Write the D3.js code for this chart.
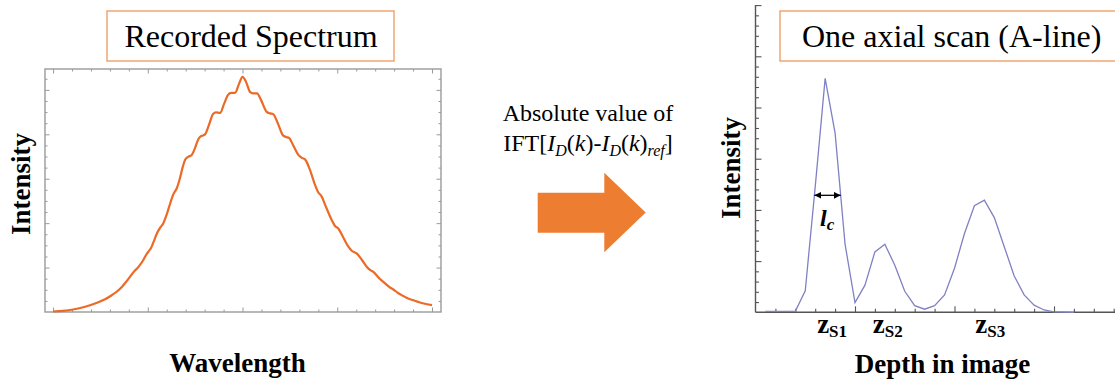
<!DOCTYPE html>
<html><head><meta charset="utf-8">
<script src="https://cdn.jsdelivr.net/npm/d3@7"></script>
<style>
body{margin:0;background:#fff}
svg{display:block}
</style>
</head><body>
<svg id="c" width="1115" height="383" font-family="Liberation Serif, DejaVu Serif, serif"></svg>
<script>
// Recorded spectrum (wavelength, arb. units) and its intensity
const spectrumX = [0,0.106,0.211,0.338,0.464,0.549,0.623,0.675,0.728,0.770,0.813,0.855,0.887,0.918,0.953,0.982,1.008,1.034,1.061,1.094,1.129,1.164,1.198,1.237,1.267,1.306,1.340,1.372,1.393,1.425,1.464,1.499,1.530,1.551,1.583,1.604,1.646,1.689,1.720,1.763,1.805,1.847,1.879,1.921,1.963,2.0,
  2.037,2.079,2.111,2.153,2.195,2.255,2.290,2.322,2.375,2.424,2.459,2.491,2.533,2.589,2.628,2.660,2.712,2.765,2.797,2.836,2.881,2.941,2.976,3.011,3.061,3.117,3.156,3.205,3.261,3.311,3.346,3.381,3.451,3.504,3.557,3.592,3.641,3.697,3.747,3.803,3.873,3.937,4.0];
const spectrumY = [0.011,0.027,0.056,0.117,0.209,0.286,0.383,0.462,0.570,0.676,0.795,0.912,0.980,1.059,1.171,1.284,1.363,1.441,1.577,1.757,1.892,1.998,2.185,2.448,2.635,2.786,3.018,3.288,3.423,3.491,3.536,3.694,3.874,3.941,3.975,3.998,4.212,4.459,4.493,4.482,4.685,4.887,4.932,4.932,5.135,5.293,
  5.180,4.955,4.921,4.921,4.775,4.505,4.471,4.459,4.234,3.986,3.941,3.919,3.761,3.536,3.468,3.435,3.198,2.860,2.703,2.597,2.365,2.072,1.937,1.881,1.689,1.471,1.374,1.318,1.171,1.020,0.946,0.901,0.743,0.646,0.552,0.507,0.428,0.360,0.304,0.264,0.214,0.180,0.153];

// One axial scan: depth samples and reflectivity magnitude
const depthX = [0.1,0.2,0.3,0.4,0.5,0.6,0.7,0.8,0.9,1.0,1.1,1.2,1.3,1.4,1.5,1.6,1.7,1.8,1.9,2.0,2.1,2.2,2.3,2.4,2.5,2.6,2.7,2.8,2.9,3.0,3.1,3.2];
const depthY = [0.02,0.02,0.02,0.02,0.42,2.45,4.57,3.50,1.33,0.19,0.53,1.18,1.33,0.92,0.41,0.13,0.06,0.13,0.34,0.86,1.54,2.08,2.19,1.85,1.28,0.71,0.34,0.14,0.045,0.01,0.005,0];

// Surface labels along depth
const surfaceNames = ["S1","S2","S3"];
const surfaceDepth = [0.77, 1.33, 2.36];

const svg = d3.select("#c");
const orange = "#ED7D31";

// ---------- left panel: recorded spectrum ----------
const xs = d3.scaleLinear().domain([-0.085, 4.095]).range([45, 441]);
const ys = d3.scaleLinear().domain([0, 5.47]).range([312, 69]);
const L = svg.append("g");

const frameCol = "#9a9a9a";
function ticksGroup(g, axis, transform){
  const a = g.append("g").attr("transform", transform).call(axis);
  a.select(".domain").remove();
  a.attr("font-family", null);
  a.selectAll(".tick line").attr("stroke", frameCol).attr("stroke-width", 1);
  return a;
}
const xMinor = d3.range(0, 4.001, 0.2).filter(v => Math.abs(v - Math.round(v)) > 0.01);
const xMajor = [0,1,2,3,4];
const yMinor = d3.range(0, 5.3, 0.25).filter(v => Math.abs(v - Math.round(v)) > 0.01);
const yMajor = [1,2,3,4,5];
ticksGroup(L, d3.axisBottom(xs).tickValues(xMinor).tickSize(-2.5).tickFormat(""), "translate(0,312)");
ticksGroup(L, d3.axisBottom(xs).tickValues(xMajor).tickSize(-4.5).tickFormat(""), "translate(0,312)");
ticksGroup(L, d3.axisTop(xs).tickValues(xMinor).tickSize(-2.5).tickFormat(""), "translate(0,69)");
ticksGroup(L, d3.axisTop(xs).tickValues(xMajor).tickSize(-4.5).tickFormat(""), "translate(0,69)");
ticksGroup(L, d3.axisLeft(ys).tickValues(yMinor).tickSize(-2.5).tickFormat(""), "translate(45,0)");
ticksGroup(L, d3.axisLeft(ys).tickValues(yMajor).tickSize(-4.5).tickFormat(""), "translate(45,0)");
ticksGroup(L, d3.axisRight(ys).tickValues(yMinor).tickSize(-2.5).tickFormat(""), "translate(441,0)");
ticksGroup(L, d3.axisRight(ys).tickValues(yMajor).tickSize(-4.5).tickFormat(""), "translate(441,0)");
L.append("rect").attr("x", 45).attr("y", 69).attr("width", 396).attr("height", 243)
  .attr("fill", "none").attr("stroke", frameCol).attr("stroke-width", 1.4);

const specLine = d3.line().x((d,i) => xs(spectrumX[i])).y(d => ys(d)).curve(d3.curveMonotoneX);
L.append("path").attr("d", specLine(spectrumY)).attr("fill", "none")
  .attr("stroke", "#EB6A26").attr("stroke-width", 2.2).attr("stroke-linejoin", "round");

// title box
L.append("rect").attr("x", 107).attr("y", 11).attr("width", 287).attr("height", 50)
  .attr("fill", "#fff").attr("stroke", "#F0975A").attr("stroke-width", 1.3);
L.append("text").attr("x", 251).attr("y", 47).attr("text-anchor", "middle")
  .attr("font-size", 32).text("Recorded Spectrum");
L.append("text").attr("x", 237.5).attr("y", 372).attr("text-anchor", "middle")
  .attr("font-size", 27).attr("font-weight", "bold").text("Wavelength");
L.append("text").attr("transform", "translate(30,184) rotate(-90)").attr("text-anchor", "middle")
  .attr("font-size", 27).attr("font-weight", "bold").text("Intensity");

// ---------- middle: transform label and arrow ----------
const M = svg.append("g");
M.append("text").attr("x", 588).attr("y", 121).attr("text-anchor", "middle")
  .attr("font-size", 24).text("Absolute value of");
const t2 = M.append("text").attr("x", 588).attr("y", 151).attr("text-anchor", "middle").attr("font-size", 24);
const parts = [
  {t:"IFT["}, {t:"I", i:1}, {t:"D", i:1, s:1}, {t:"("}, {t:"k", i:1}, {t:")-"},
  {t:"I", i:1}, {t:"D", i:1, s:1}, {t:"("}, {t:"k", i:1}, {t:")"}, {t:"ref", i:1, s:1}, {t:"]"}
];
let shifted = false;
parts.forEach(p => {
  const ts = t2.append("tspan").text(p.t);
  if (p.i) ts.attr("font-style", "italic");
  if (p.s) { ts.attr("font-size", 16); if (!shifted) { ts.attr("dy", 5); shifted = true; } }
  else if (shifted) { ts.attr("dy", -5); shifted = false; }
});
M.append("path")
  .attr("d", "M537.7,192.7 H604.3 V172.7 L645.7,212.5 L604.3,252.3 V232.7 H537.7 Z")
  .attr("fill", orange);

// ---------- right panel: A-line ----------
const xd = d3.scaleLinear().domain([0, 3.62]).range([755.5, 1115.7]);
const yd = d3.scaleLinear().domain([0, 6]).range([312.3, 5.1]);
const R = svg.append("g");
const axCol = "#555";
function axTicks(axis, transform){
  const a = R.append("g").attr("transform", transform).call(axis);
  a.select(".domain").remove();
  a.attr("font-family", null);
  a.selectAll(".tick line").attr("stroke", axCol).attr("stroke-width", 1.1);
}
const dMinor = d3.range(0.2, 3.61, 0.2).filter(v => Math.abs(v - Math.round(v)) > 0.01);
const dMajor = [1,2,3];
const iMinor = d3.range(0.2, 6.01, 0.2).filter(v => Math.abs(v - Math.round(v)) > 0.01);
const iMajor = [1,2,3,4,5,6];
axTicks(d3.axisBottom(xd).tickValues(dMinor).tickSize(-3.5).tickFormat(""), "translate(0,312.3)");
axTicks(d3.axisBottom(xd).tickValues(dMajor).tickSize(-6).tickFormat(""), "translate(0,312.3)");
axTicks(d3.axisLeft(yd).tickValues(iMinor).tickSize(-3.5).tickFormat(""), "translate(755.5,0)");
axTicks(d3.axisLeft(yd).tickValues(iMajor).tickSize(-6).tickFormat(""), "translate(755.5,0)");
R.append("line").attr("x1", 755.5).attr("x2", 1115).attr("y1", 312.3).attr("y2", 312.3)
  .attr("stroke", axCol).attr("stroke-width", 1.4);
R.append("line").attr("x1", 755.5).attr("x2", 755.5).attr("y1", 312.3).attr("y2", 5)
  .attr("stroke", axCol).attr("stroke-width", 1.4);

const aLine = d3.line().x((d,i) => xd(depthX[i])).y(d => yd(d));
R.append("path").attr("d", aLine(depthY)).attr("fill", "none")
  .attr("stroke", "#8080C4").attr("stroke-width", 1.3).attr("stroke-linejoin", "miter");

// coherence length at half of the first peak
const peakIdx = d3.maxIndex(depthY);
const half = depthY[peakIdx] / 2;
function crossing(i0, step){
  let i = i0;
  while (depthY[i + step] > half) i += step;
  const j = i + step, t = (depthY[i] - half) / (depthY[i] - depthY[j]);
  return depthX[i] + t * (depthX[j] - depthX[i]);
}
const lcL = crossing(peakIdx, -1), lcR = crossing(peakIdx, 1);
const defs = svg.append("defs");
defs.append("marker").attr("id", "ah").attr("viewBox", "0 0 10 10").attr("refX", 10).attr("refY", 5)
  .attr("markerWidth", 7).attr("markerHeight", 7).attr("markerUnits", "userSpaceOnUse")
  .attr("orient", "auto-start-reverse")
  .append("path").attr("d", "M0,0 L10,5 L0,10 Z").attr("fill", "#000");
R.append("line").attr("x1", xd(lcL)).attr("x2", xd(lcR)).attr("y1", yd(half)).attr("y2", yd(half))
  .attr("stroke", "#000").attr("stroke-width", 1.3)
  .attr("marker-start", "url(#ah)").attr("marker-end", "url(#ah)");
const lc = R.append("text").attr("x", 820).attr("y", 226).attr("font-size", 24)
  .attr("font-weight", "bold").attr("font-style", "italic");
lc.append("tspan").text("l");
lc.append("tspan").attr("font-size", 17).attr("dy", 4).text("c");

// surface labels
surfaceNames.forEach((s, i) => {
  const t = R.append("text").attr("x", xd(surfaceDepth[i])).attr("y", 333)
    .attr("text-anchor", "middle").attr("font-weight", "bold").attr("font-size", 27);
  t.append("tspan").text("z");
  t.append("tspan").attr("font-size", 17).attr("dy", 4).text(s);
});

R.append("rect").attr("x", 780).attr("y", 11).attr("width", 360).attr("height", 50)
  .attr("fill", "#fff").attr("stroke", "#F0975A").attr("stroke-width", 1.3);
R.append("text").attr("x", 951.7).attr("y", 47).attr("text-anchor", "middle")
  .attr("font-size", 32).text("One axial scan (A-line)");
R.append("text").attr("x", 942.5).attr("y", 373).attr("text-anchor", "middle")
  .attr("font-size", 27).attr("font-weight", "bold").text("Depth in image");
R.append("text").attr("transform", "translate(740,168) rotate(-90)").attr("text-anchor", "middle")
  .attr("font-size", 27).attr("font-weight", "bold").text("Intensity");
</script>
</body></html>
